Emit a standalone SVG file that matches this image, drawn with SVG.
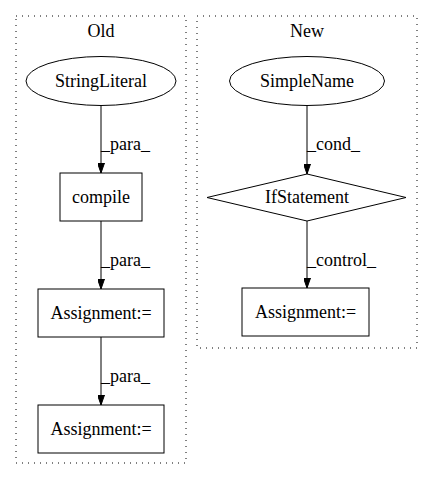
<svg xmlns="http://www.w3.org/2000/svg" width="432" height="480" viewBox="0 0 432 480" font-family="'Liberation Serif', 'DejaVu Serif', serif" font-size="18">
<style>
.cl{fill:none;stroke:#000;stroke-width:1;stroke-dasharray:1,5}
.n{fill:none;stroke:#000;stroke-width:1}
.e{fill:none;stroke:#000;stroke-width:1}
.t{font-family:'Liberation Serif','DejaVu Serif',serif;font-size:18px;fill:#000}
.c{text-anchor:middle}
</style>
<defs>
<marker id="ah" markerWidth="10" markerHeight="7" refX="10" refY="3.5" orient="auto" markerUnits="userSpaceOnUse">
<path d="M0,0 L10,3.5 L0,7 Z" fill="#000" stroke="#000"/>
</marker>
</defs>
<rect fill="#fff" width="432" height="480"/>
<g id="cluster_old">
<rect class="cl" x="16" y="16" width="170" height="447"/>
<text class="t c" x="101" y="37">Old</text>
</g>
<g id="cluster_new">
<rect class="cl" x="197" y="16" width="220" height="332"/>
<text class="t c" x="307" y="37">New</text>
</g>
<g id="connectors">
<path class="e" d="M101,106 L101,173" marker-end="url(#ah)"/>
<text class="t" x="101" y="150">_para_</text>
<path class="e" d="M101,221 L101,289" marker-end="url(#ah)"/>
<text class="t" x="101" y="266">_para_</text>
<path class="e" d="M101,337 L101,405" marker-end="url(#ah)"/>
<text class="t" x="101" y="382">_para_</text>
<path class="e" d="M307,106 L307,174" marker-end="url(#ah)"/>
<text class="t" x="307" y="150">_cond_</text>
<path class="e" d="M307,221 L307,288" marker-end="url(#ah)"/>
<text class="t" x="307" y="266">_control_</text>
</g>
<g id="StringLiteral">
<ellipse class="n" cx="101" cy="81" rx="75" ry="24.5"/>
<text class="t c" x="101" y="87">StringLiteral</text>
</g>
<g id="compile">
<rect class="n" x="60" y="173" width="82" height="48"/>
<text class="t c" x="101" y="203">compile</text>
</g>
<g id="Assignment1">
<rect class="n" x="38" y="289" width="126" height="48"/>
<text class="t c" x="101" y="319">Assignment:=</text>
</g>
<g id="Assignment2">
<rect class="n" x="38" y="405" width="126" height="48"/>
<text class="t c" x="101" y="435">Assignment:=</text>
</g>
<g id="SimpleName">
<ellipse class="n" cx="307" cy="81" rx="77.5" ry="24.5"/>
<text class="t c" x="307" y="87">SimpleName</text>
</g>
<g id="IfStatement">
<polygon class="n" points="307,174 406,197.5 307,221 207,197.5"/>
<text class="t c" x="307" y="203">IfStatement</text>
</g>
<g id="Assignment3">
<rect class="n" x="242" y="288" width="127" height="48"/>
<text class="t c" x="305.5" y="318">Assignment:=</text>
</g>
</svg>
